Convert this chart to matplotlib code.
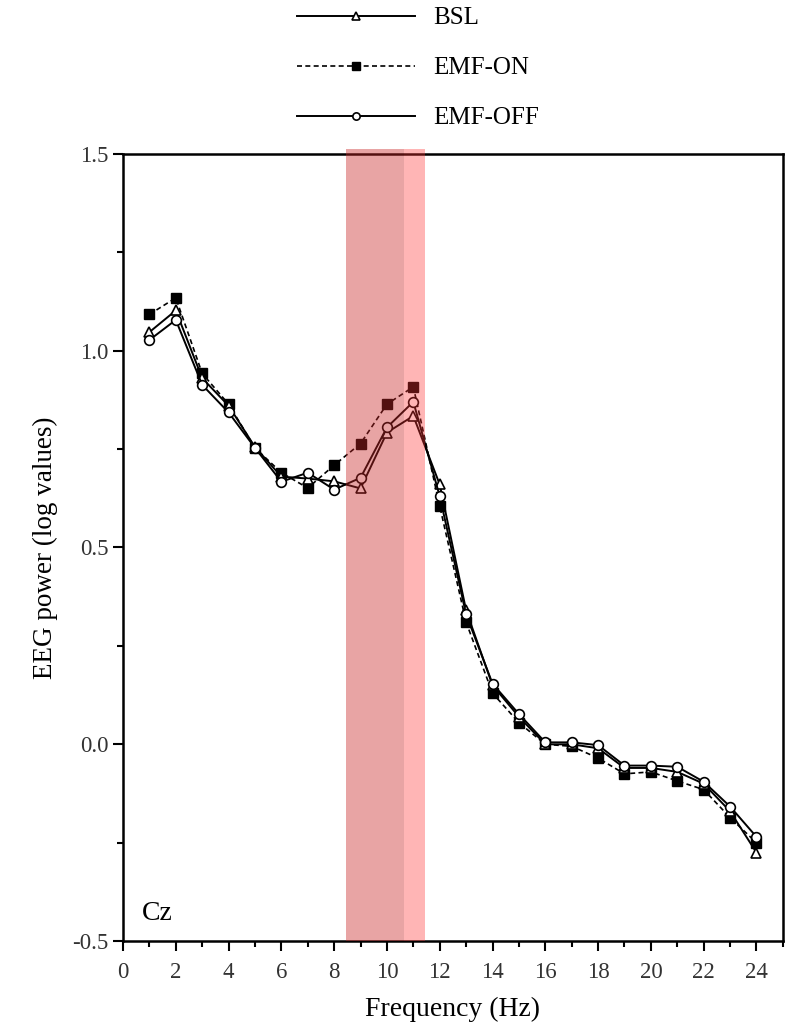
import numpy as np
import matplotlib
matplotlib.use("Agg")
import matplotlib.pyplot as plt
from matplotlib.ticker import MultipleLocator

plt.rcParams['font.family'] = ['Liberation Serif', 'DejaVu Serif']

freq = list(range(1, 25))
bsl = [1.047, 1.102, 0.93, 0.86, 0.755, 0.68, 0.675, 0.668, 0.65, 0.792, 0.834, 0.66,
       0.34, 0.15, 0.07, 0.0, 0.0, -0.01, -0.06, -0.06, -0.07, -0.10, -0.17, -0.275]
emf_on = [1.092, 1.134, 0.942, 0.864, 0.753, 0.69, 0.651, 0.709, 0.764, 0.864, 0.908, 0.605,
          0.31, 0.13, 0.055, 0.0, -0.005, -0.035, -0.075, -0.07, -0.093, -0.115, -0.186, -0.25]
emf_off = [1.027, 1.078, 0.913, 0.843, 0.753, 0.667, 0.69, 0.647, 0.677, 0.805, 0.87, 0.63,
           0.33, 0.154, 0.077, 0.005, 0.005, -0.002, -0.054, -0.054, -0.057, -0.095, -0.158, -0.235]

band = (8.45, 11.45)
band_dark = (8.45, 10.65)

fig = plt.figure(figsize=(7.86, 10.32), dpi=100)
ax = fig.add_axes([0.1565, 0.088, 0.8395, 0.763])

ax.plot(freq, bsl, '-', color='black', lw=1.4, marker='^', ms=7,
        mfc='white', mec='black', mew=1.2, label='BSL', zorder=3)
ax.plot(freq, emf_on, color='black', lw=1.2, ls=(0, (3, 2)), marker='s', ms=7.5,
        mfc='black', mec='black', label='EMF-ON', zorder=2)
ax.plot(freq, emf_off, '-', color='black', lw=1.4, marker='o', ms=7,
        mfc='white', mec='black', mew=1.2, label='EMF-OFF', zorder=4)

# pink band drawn on top, slightly transparent, with darker left part
ax.axvspan(band[0], band[1], ymin=0, ymax=1.006, color='#ff3333', alpha=0.36,
           lw=0, zorder=10, clip_on=False)
ax.axvspan(band_dark[0], band_dark[1], ymin=0, ymax=1.006, color='black', alpha=0.09,
           lw=0, zorder=11, clip_on=False)

ax.set_xlim(0, 25)
ax.set_ylim(-0.5, 1.5)
ax.xaxis.set_minor_locator(MultipleLocator(1))
ax.yaxis.set_minor_locator(MultipleLocator(0.25))
ax.set_xticks(range(0, 25, 2))
ax.set_yticks([-0.5, 0.0, 0.5, 1.0, 1.5])
ax.set_yticklabels(['-0.5', '0.0', '0.5', '1.0', '1.5'])
ax.tick_params(which='major', direction='out', length=7, width=1.5,
               labelsize=16.5, labelcolor='#333333', top=False, right=False)
ax.tick_params(axis='x', which='major', pad=8)
ax.tick_params(which='minor', direction='out', length=4, width=1.5, top=False, right=False)
for s in ax.spines.values():
    s.set_linewidth(1.8)

ax.set_xlabel('Frequency (Hz)', fontsize=20, labelpad=10)
ax.set_ylabel('EEG power (log values)', fontsize=19.5, labelpad=10)
ax.text(0.72, -0.43, 'Cz', fontsize=20, va='center', ha='left')

fig.legend(loc='upper left', bbox_to_anchor=(297 / 786, 1 - 7 / 1032), frameon=False,
           fontsize=18, handlelength=4.7, handletextpad=0.75, labelspacing=1.1,
           markerscale=0.75, borderpad=0, borderaxespad=0)

fig.savefig('out.png', dpi=100)
